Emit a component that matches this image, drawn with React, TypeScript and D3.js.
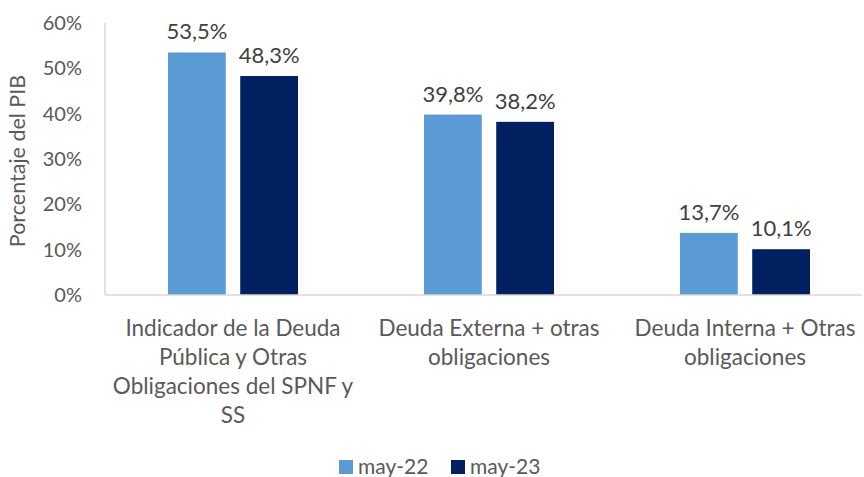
import React from "react";
import * as d3 from "d3";

const categories = [
  ["Indicador de la Deuda", "Pública y Otras", "Obligaciones del SPNF y", "SS"],
  ["Deuda Externa + otras", "obligaciones"],
  ["Deuda Interna + Otras", "obligaciones"],
];
const seriesNames = ["may-22", "may-23"];
const may22 = [53.5, 39.8, 13.7];
const may23 = [48.3, 38.2, 10.1];
const yTicks = [0, 10, 20, 30, 40, 50, 60];
const colors = ["#5B9BD5", "#002060"];

const W = 864;
const H = 477;
const left = 105;
const top = 23;
const bottom = 295;

export default function App() {
  const font = "Lato, 'Open Sans', sans-serif";
  const y = d3.scaleLinear().domain([0, 60]).range([bottom, top]);
  const x = d3.scaleBand<number>().domain([0, 1, 2]).range([left, left + 768]);
  const inner = d3.scaleBand<number>().domain([0, 1]).range([0, 130]).paddingInner(0.2);
  const series = [may22, may23];
  const fmt = (v: number) => v.toFixed(1).replace(".", ",") + "%";

  return (
    <svg width={W} height={H} style={{ position: "absolute", left: 0, top: 0, background: "#fff" }} fontFamily={font}>
      {yTicks.map((t) => (
        <text key={t} x={82} y={y(t)} dy="0.35em" textAnchor="end" fontSize={20} fill="#595959">
          {t}%
        </text>
      ))}
      <text transform={`translate(25,${(top + bottom) / 2 + 2}) rotate(-90)`} textAnchor="middle" fontSize={21.5} fill="#595959">
        Porcentaje del PIB
      </text>
      {categories.map((c, i) => {
        const cx = (x(i) as number) + x.bandwidth() / 2;
        const gx = cx - 65;
        return (
          <g key={i}>
            {series.map((s, j) => {
              const bx = gx + (inner(j) as number);
              return (
                <g key={j}>
                  <rect x={bx} y={y(s[i])} width={inner.bandwidth()} height={bottom - y(s[i])} fill={colors[j]} />
                  <text x={bx + inner.bandwidth() / 2} y={y(s[i]) - 13} textAnchor="middle" fontSize={22} fill="#404040">
                    {fmt(s[i])}
                  </text>
                </g>
              );
            })}
            {c.map((line, k) => (
              <text key={k} x={cx} y={328 + k * 29} dy="0.35em" textAnchor="middle" fontSize={22.5} fill="#595959">
                {line}
              </text>
            ))}
          </g>
        );
      })}
      <line x1={left} x2={left} y1={top} y2={bottom} stroke="#d9d9d9" strokeWidth={1.5} />
      <line x1={left} x2={862} y1={bottom} y2={bottom} stroke="#d9d9d9" strokeWidth={1.5} />
      {seriesNames.map((n, j) => (
        <g key={n} transform={`translate(${339 + j * 112},459)`}>
          <rect x={0} y={1} width={14} height={14} fill={colors[j]} />
          <text x={19} y={8} dy="0.33em" fontSize={21} fill="#595959">
            {n}
          </text>
        </g>
      ))}
    </svg>
  );
}
